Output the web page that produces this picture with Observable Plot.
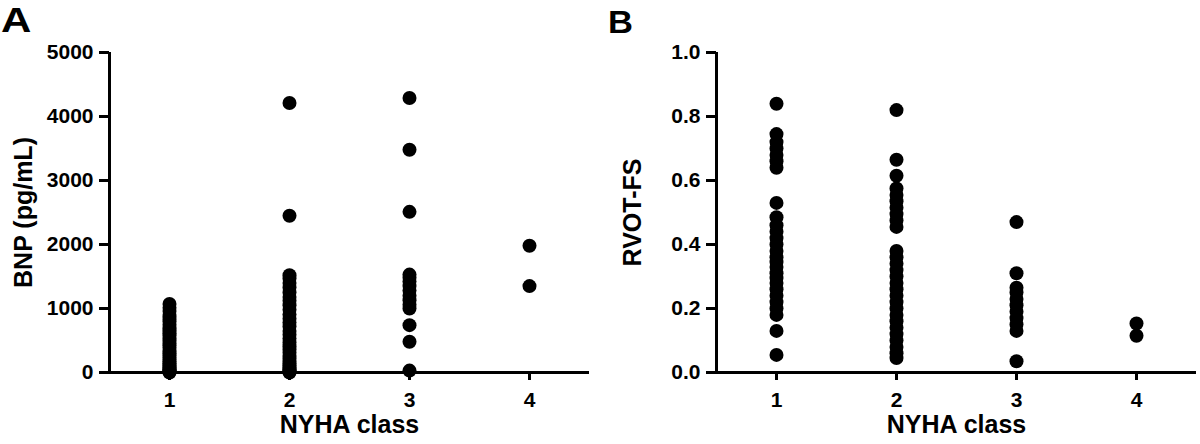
<!DOCTYPE html>
<html>
<head>
<meta charset="utf-8">
<script src="https://cdn.jsdelivr.net/npm/d3@7"></script>
<script src="https://cdn.jsdelivr.net/npm/@observablehq/plot@0.6"></script>
<style>
  html, body { margin: 0; padding: 0; background: #fff; }
  #wrap { position: relative; width: 1200px; height: 444px; overflow: hidden; background: #fff; }
  .panel { position: absolute; top: 0; z-index: 1; }
  .letter { position: absolute; z-index: 2; font-family: "Liberation Sans", Arial, sans-serif; font-weight: bold; line-height: 1; color: #000; transform-origin: left top; }
</style>
</head>
<body>
<div id="wrap">
  <div class="panel" id="pa" style="left:0px;"></div>
  <div class="panel" id="pb" style="left:600px;"></div>
  <div class="letter" style="left:1px; top:2px; font-size:35px; transform: scaleX(1.2);">A</div>
  <div class="letter" style="left:608px; top:6px; font-size:32px; transform: scaleX(1.08);">B</div>
</div>
<script>
// NYHA categories and tick labels
const nyhaClasses = [1, 2, 3, 4];
const bnpTicks = [0, 1000, 2000, 3000, 4000, 5000];
const fsTicks = [0, 0.2, 0.4, 0.6, 0.8, 1.0];

// Panel A: BNP (pg/mL) by NYHA class
const bnpClass1 = [1070, 1010, 960, 900, 850, 800, 745, 700, 660, 615, 580, 540, 500, 455, 420, 385, 340, 300, 265, 230, 200, 170, 140, 115, 90, 70, 50, 30, 20, 10, 0];
const bnpClass2 = [4210, 2450, 1520, 1470, 1400, 1330, 1250, 1180, 1120, 1050, 980, 905, 840, 780, 720, 650, 590, 530, 470, 410, 360, 310, 260, 220, 180, 140, 110, 80, 60, 40, 20, 10, 0];
const bnpClass3 = [4290, 3480, 2510, 1530, 1480, 1420, 1350, 1280, 1200, 1130, 1060, 1000, 740, 480, 30];
const bnpClass4 = [1980, 1350];

// Panel B: RVOT-FS by NYHA class
const fsClass1 = [0.84, 0.745, 0.72, 0.70, 0.68, 0.66, 0.64, 0.53, 0.485, 0.46, 0.44, 0.42, 0.40, 0.38, 0.36, 0.345, 0.33, 0.31, 0.295, 0.28, 0.26, 0.24, 0.22, 0.20, 0.18, 0.13, 0.055];
const fsClass2 = [0.82, 0.665, 0.615, 0.575, 0.555, 0.535, 0.515, 0.495, 0.475, 0.455, 0.38, 0.36, 0.34, 0.32, 0.30, 0.28, 0.26, 0.24, 0.22, 0.20, 0.18, 0.16, 0.14, 0.12, 0.10, 0.08, 0.06, 0.045];
const fsClass3 = [0.47, 0.31, 0.265, 0.25, 0.23, 0.21, 0.19, 0.17, 0.15, 0.13, 0.035];
const fsClass4 = [0.153, 0.115];

function toRows(groups) {
  const rows = [];
  groups.forEach((vals, i) => vals.forEach(v => rows.push({nyha: nyhaClasses[i], value: v})));
  return rows;
}
const bnpData = toRows([bnpClass1, bnpClass2, bnpClass3, bnpClass4]);
const fsData = toRows([fsClass1, fsClass2, fsClass3, fsClass4]);

function panel({data, yDomain, yTicks, yFormat, yLabel, marginLeft, marginRight, yLabelDx}) {
  return Plot.plot({
    width: 600,
    height: 444,
    marginTop: 52,
    marginBottom: 72,
    marginLeft,
    marginRight,
    style: {
      fontFamily: "'Liberation Sans', Arial, sans-serif",
      fontSize: "21px",
      fontWeight: "bold",
      color: "black",
      background: "white",
      overflow: "visible"
    },
    x: {domain: [0.5, 4.5]},
    y: {domain: yDomain},
    marks: [
      Plot.axisX({ticks: nyhaClasses, tickSize: 8, tickPadding: 12, tickFormat: d => String(d), label: null, stroke: "black", strokeWidth: 3}),
      Plot.axisY({ticks: yTicks, tickSize: 10, tickPadding: 6, tickFormat: yFormat, label: null, stroke: "black", strokeWidth: 3}),
      Plot.ruleX([0.5], {stroke: "black", strokeWidth: 3}),
      Plot.ruleY([yDomain[0]], {stroke: "black", strokeWidth: 3}),
      Plot.dot(data, {x: "nyha", y: "value", r: 7, fill: "black"}),
      Plot.text([yLabel], {text: d => d, frameAnchor: "left", textAnchor: "middle", dx: yLabelDx, rotate: -90, fontSize: 25}),
      Plot.text(["NYHA class"], {text: d => d, frameAnchor: "bottom", textAnchor: "middle", dy: 60, fontSize: 25})
    ]
  });
}

document.getElementById("pa").appendChild(panel({
  data: bnpData, yDomain: [0, 5000], yTicks: bnpTicks, yFormat: d => String(d),
  yLabel: "BNP (pg/mL)", marginLeft: 109, marginRight: 11, yLabelDx: -86
}));
document.getElementById("pb").appendChild(panel({
  data: fsData, yDomain: [0, 1], yTicks: fsTicks, yFormat: d => d.toFixed(1),
  yLabel: "RVOT-FS", marginLeft: 116, marginRight: 4, yLabelDx: -84
}));
</script>
</body>
</html>
